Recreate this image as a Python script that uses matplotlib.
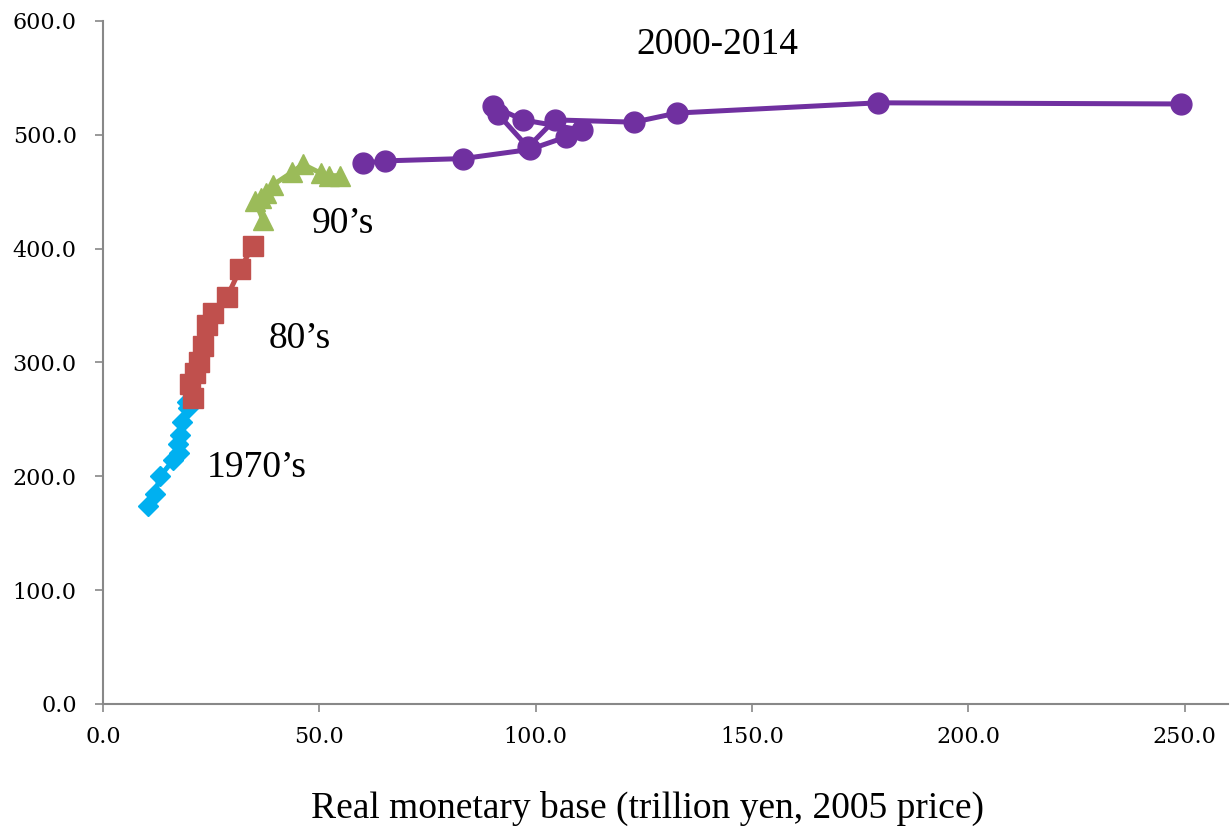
import matplotlib.pyplot as plt
import numpy as np

# 1970s
x70 = [10.5, 11.9, 13.2, 16.2, 17.6, 17.4, 17.8, 18.2, 19.7, 19.4]
y70 = [174, 184, 200, 214, 220, 228, 236, 248, 260, 265]
# 1980s
x80 = [20.7, 20.2, 21.3, 22.2, 23.0, 24.0, 25.4, 28.6, 31.7, 34.6]
y80 = [269, 281, 291, 300, 314, 333, 343, 357, 382, 402]
# 1990s
x90 = [37.0, 35.1, 36.5, 37.7, 39.3, 43.7, 46.2, 50.4, 52.2, 54.8]
y90 = [425, 442, 444, 449, 456, 467, 474, 466, 464, 464]
# 2000-2014
x00 = [60.1, 65.2, 83.2, 98.6, 107.0, 110.7, 97.0, 90.1, 91.3, 98.2, 104.4, 122.7, 132.6, 179.1, 249.1]
y00 = [475, 477, 479, 487, 498, 504, 513, 525, 518, 489, 513, 511, 519, 528, 527]

labels = ["1970\u2019s", "80\u2019s", "90\u2019s", "2000-2014"]
label_x = [35.6, 45.5, 55.4, 141.9]
label_y = [207, 321, 422, 579]

fig = plt.figure(figsize=(12.31, 8.34), dpi=100)
ax = fig.add_axes([0.0837, 0.156, 0.9139, 0.819])

ax.plot(x70, y70, color="#00B0F0", marker="D", ms=10, lw=3.6)
ax.plot(x80, y80, color="#C0504D", marker="s", ms=14, lw=3.6)
ax.plot(x90, y90, color="#9BBB59", marker="^", ms=15, lw=3.6)
ax.plot(x00, y00, color="#7030A0", marker="o", ms=15, lw=3.6)

for t, tx, ty in zip(labels, label_x, label_y):
    ax.text(tx, ty, t, fontsize=27, family="Liberation Serif", ha="center", va="center")

ax.set_xlim(0, 260)
ax.set_ylim(0, 600)
ax.set_xticks(np.arange(0, 251, 50))
ax.set_yticks(np.arange(0, 601, 100))
ax.set_xticklabels([f"{v:.1f}" for v in np.arange(0, 251, 50)])
ax.set_yticklabels([f"{v:.1f}" for v in np.arange(0, 601, 100)])
for lab in ax.get_xticklabels() + ax.get_yticklabels():
    lab.set_family("DejaVu Serif")
    lab.set_fontsize(16)

ax.spines["top"].set_visible(False)
ax.spines["right"].set_visible(False)
ax.spines["left"].set_color("#888888")
ax.spines["bottom"].set_color("#888888")
ax.spines["left"].set_linewidth(1.5)
ax.spines["bottom"].set_linewidth(1.5)
ax.tick_params(axis="both", direction="out", length=6, color="#888888", width=1.2)
ax.tick_params(axis="y", pad=13)
ax.tick_params(axis="x", pad=10)

fig.text(0.5256, 0.031, "Real monetary base (trillion yen, 2005 price)", fontsize=27,
         family="Liberation Serif", ha="center", va="center")

fig.savefig("out.png", dpi=100)
